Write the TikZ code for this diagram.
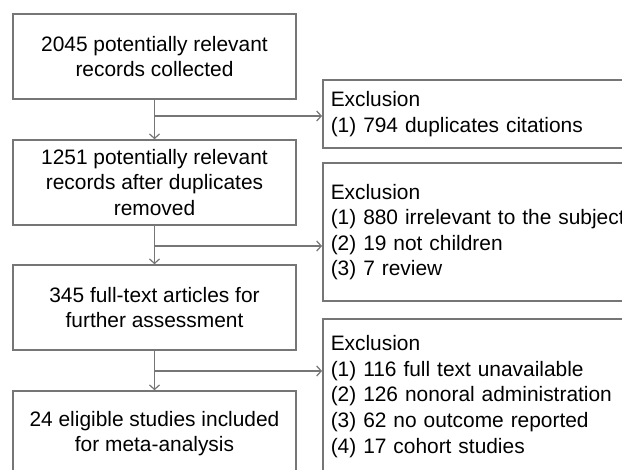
\documentclass[tikz,border=0pt]{standalone}
\usepackage{fontspec}
\setmainfont{Liberation Sans}
\usetikzlibrary{arrows.meta}
\definecolor{linegray}{HTML}{767676}
\tikzset{
  every picture/.style={x=1pt,y=-1pt},
  txt/.style={font=\fontsize{20.9}{25.6}\selectfont, text=black},
  mainbox/.style={txt, draw=linegray, line width=1.5pt, minimum width=283pt, minimum height=85pt, align=center, inner sep=0pt},
  exbox/.style={txt, draw=linegray, line width=1.5pt, minimum width=380pt, text width=364pt, align=left, inner xsep=8pt, inner ysep=0pt, anchor=west},
  flow/.style={draw=linegray, line width=1.4pt, -{Straight Barb[length=4.5pt,width=10pt,line width=1.2pt]}}
}
\begin{document}
\begin{tikzpicture}
\useasboundingbox (0,0) rectangle (622,470);
\clip (0,0) rectangle (622,470);
\fill[white] (0,0) rectangle (622,470);

\node[mainbox] (b1) at (154.5,56.5) {2045 potentially relevant\\records collected};
\node[mainbox] (b2) at (154.5,182.5) {1251 potentially relevant\\records after duplicates\\removed};
\node[mainbox] (b3) at (154.5,307.5) {345 full-text articles for\\further assessment};
\node[mainbox] (b4) at (154.5,433.5) {24 eligible studies included\\for meta-analysis};

\node[exbox, minimum height=68pt] (e1) at (322,114) {Exclusion\\(1) 794 duplicates citations};
\node[exbox, minimum height=138pt] (e2) at (322,232) {Exclusion\\(1) 880 irrelevant to the subject\\(2) 19 not children\\(3) 7 review};
\node[exbox, minimum height=155pt] (e3) at (322,396.5) {Exclusion\\(1) 116 full text unavailable\\(2) 126 nonoral administration\\(3) 62 no outcome reported\\(4) 17 cohort studies};

\draw[flow] (b1) -- (b2);
\draw[flow] (b2) -- (b3);
\draw[flow] (b3) -- (b4);

\coordinate (j1) at (154.5,116);
\coordinate (j2) at (154.5,246);
\coordinate (j3) at (154.5,371);
\draw[flow] (j1) -- (j1 -| e1.west);
\draw[flow] (j2) -- (j2 -| e2.west);
\draw[flow] (j3) -- (j3 -| e3.west);
\end{tikzpicture}
\end{document}
